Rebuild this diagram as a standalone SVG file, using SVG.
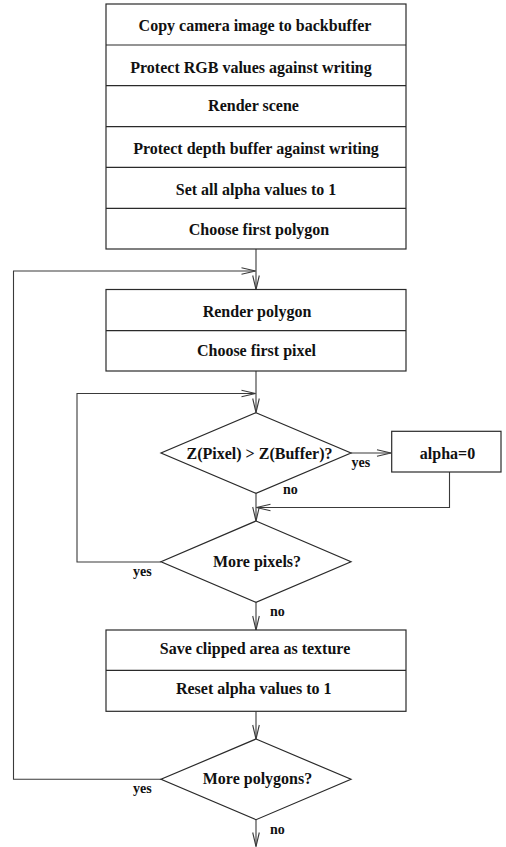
<svg xmlns="http://www.w3.org/2000/svg" width="506" height="847" viewBox="0 0 506 847">
<style>
.box{fill:#fff;stroke:#2a2a2a;stroke-width:1.2}
.div{stroke:#2a2a2a;stroke-width:1.2}
.t{font-family:"Liberation Serif","Times New Roman",serif;font-weight:bold;font-size:16px;fill:#111;text-anchor:middle}
.l{font-family:"Liberation Serif","Times New Roman",serif;font-weight:bold;font-size:14px;fill:#111}
.c{fill:none;stroke:#3a3a3a;stroke-width:1.1}
</style>
<defs>
<marker id="arr" viewBox="-15 -5 16 10" markerWidth="16" markerHeight="10" refX="0" refY="0" orient="auto" markerUnits="userSpaceOnUse">
<path d="M-14,-3.3 L0,0 L-14,3.3" fill="none" stroke="#3a3a3a" stroke-width="1.1"/>
</marker>
</defs>
<g id="connectors">
<path class="c" d="M256,249 V289.5" marker-end="url(#arr)"/>
<path class="c" d="M161,779.3 H13.5 V271 H255.5" marker-end="url(#arr)"/>
<path class="c" d="M256,371 V412.5" marker-end="url(#arr)"/>
<path class="c" d="M161,562 H77 V393.5 H255.5" marker-end="url(#arr)"/>
<path class="c" d="M351,453 H391" marker-end="url(#arr)"/>
<path class="c" d="M449.5,472 V507.5 H256.5" marker-end="url(#arr)"/>
<path class="c" d="M256,493.3 V521" marker-end="url(#arr)"/>
<path class="c" d="M256,602.3 V630" marker-end="url(#arr)"/>
<path class="c" d="M256,711.3 V739" marker-end="url(#arr)"/>
<path class="c" d="M256,819.7 V846.5" marker-end="url(#arr)"/>
<text class="l" x="351.5" y="466.5">yes</text>
<text class="l" x="283" y="494">no</text>
<text class="l" x="133" y="576">yes</text>
<text class="l" x="270" y="615.5">no</text>
<text class="l" x="133" y="793">yes</text>
<text class="l" x="270" y="833.5">no</text>
</g>
<g id="init-steps">
<rect class="box" x="106" y="4" width="300" height="245"/>
<line class="div" x1="106" y1="45" x2="406" y2="45"/>
<line class="div" x1="106" y1="85.7" x2="406" y2="85.7"/>
<line class="div" x1="106" y1="126.7" x2="406" y2="126.7"/>
<line class="div" x1="106" y1="167.3" x2="406" y2="167.3"/>
<line class="div" x1="106" y1="208.3" x2="406" y2="208.3"/>
<text class="t" x="255" y="31">Copy camera image to backbuffer</text>
<text class="t" x="251" y="72.5">Protect RGB values against writing</text>
<text class="t" x="253.5" y="110.5">Render scene</text>
<text class="t" x="256" y="154">Protect depth buffer against writing</text>
<text class="t" x="256" y="195">Set all alpha values to 1</text>
<text class="t" x="259" y="235">Choose first polygon</text>
</g>
<g id="polygon-steps">
<rect class="box" x="106" y="289.5" width="300" height="81.5"/>
<line class="div" x1="106" y1="330.7" x2="406" y2="330.7"/>
<text class="t" x="257" y="316.5">Render polygon</text>
<text class="t" x="256.5" y="355.5">Choose first pixel</text>
</g>
<g id="depth-test">
<polygon class="box" points="256,412.7 351,453 256,493.3 161,453"/>
<text class="t" x="259.5" y="459">Z(Pixel) &gt; Z(Buffer)?</text>
</g>
<g id="alpha-zero">
<rect class="box" x="391.7" y="431.3" width="109.3" height="40.7"/>
<text class="t" x="447.5" y="458.5">alpha=0</text>
</g>
<g id="more-pixels">
<polygon class="box" points="256,521 351,561.7 256,602.3 161,561.7"/>
<text class="t" x="257" y="566.5">More pixels?</text>
</g>
<g id="texture-steps">
<rect class="box" x="106" y="630" width="300" height="81.3"/>
<line class="div" x1="106" y1="670.3" x2="406" y2="670.3"/>
<text class="t" x="255" y="653.5">Save clipped area as texture</text>
<text class="t" x="253.7" y="694">Reset alpha values to 1</text>
</g>
<g id="more-polygons">
<polygon class="box" points="256,739 351,779.3 256,819.7 161,779.3"/>
<text class="t" x="257.5" y="783.8">More polygons?</text>
</g>
</svg>
